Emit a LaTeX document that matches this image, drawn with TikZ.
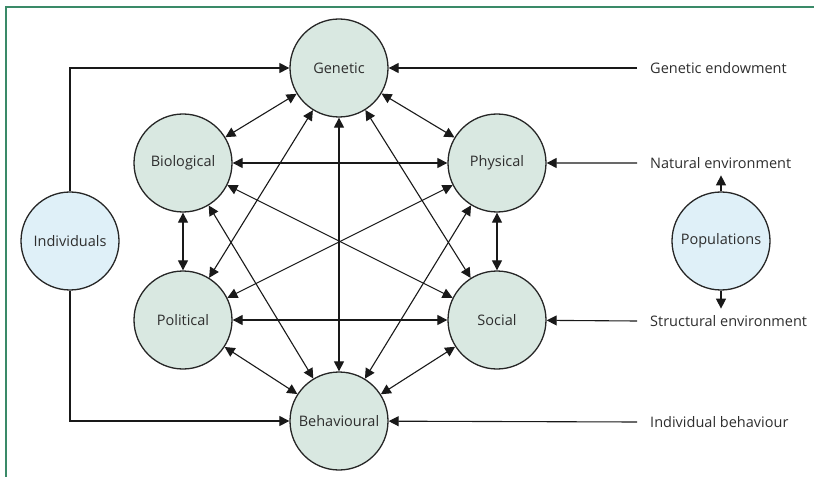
\documentclass[tikz,border=0pt]{standalone}
\usepackage{fontspec}
\setmainfont{Open Sans}
\usepackage{xcolor}
\usetikzlibrary{positioning, arrows.meta}

\definecolor{factorfill}{HTML}{D9E8E1}
\definecolor{levelfill}{HTML}{DFF0F8}
\definecolor{framegreen}{HTML}{3A8A68}
\definecolor{inkgrey}{HTML}{2E2E2E}

\begin{document}
\begin{tikzpicture}[x=1bp,y=1bp,on grid,
    font=\fontsize{14.5bp}{16bp}\selectfont,
    factor/.style={circle,draw=black!85,line width=1.3bp,fill=factorfill,
        minimum size=98bp,inner sep=0pt,text=inkgrey},
    level/.style={factor,fill=levelfill},
    source/.style={anchor=west,text=inkgrey,inner sep=0pt},
    link/.style={{Triangle[length=10bp,width=10bp]}-{Triangle[length=10bp,width=10bp]},
        line width=1.1bp,black!90},
    feed/.style={-{Triangle[length=10bp,width=10bp]},line width=1.1bp,black!90}]
    \useasboundingbox (0,0) rectangle (814,-477);
    \draw[framegreen,line width=1.5bp] (6,-477) -- (6,-7) -- (814,-7);

    % Ring of determinants
    \node[factor] (gen) at (339,-68) {Genetic};
    \node[factor] (bio) [below left=95bp and 156bp of gen] {Biological};
    \node[factor] (phy) [right=314bp of bio] {Physical};
    \node[factor] (pol) [below=157bp of bio] {Political};
    \node[factor] (soc) [right=314bp of pol] {Social};
    \node[factor] (beh) [below=353bp of gen] {Behavioural};

    % Levels
    \node[level] (ind) at (70,-241) {Individuals};
    \node[level] (pop) at (721,-241) {Populations};
    \coordinate (popUp) at ([yshift=16bp]pop.north);
    \coordinate (popDown) at ([yshift=-18bp]pop.south);

    % Outer sources
    \node[source] (endow) at (650,-68) {Genetic endowment};
    \node[source] (natenv) at (650,-163) {Natural environment};
    \node[source] (strenv) at (650,-321) {Structural environment};
    \node[source] (indbeh) at (650,-422) {Individual behaviour};

    \path[link]
    (gen) edge (bio) edge (phy) edge (pol) edge (soc) edge (beh)
    (bio) edge (phy) edge (pol) edge (soc) edge (beh)
    (phy) edge (pol) edge (soc) edge (beh)
    (pol) edge (soc) edge (beh)
    (soc) edge (beh);

    \draw[feed] ([xshift=-13bp]endow.west) -- (gen);
    \draw[feed] ([xshift=-13bp]natenv.west) -- (phy);
    \draw[feed] ([xshift=-13bp]strenv.west) -- (soc);
    \draw[feed] ([xshift=-13bp]indbeh.west) -- (beh);

    \draw[feed] (ind.north) |- (gen.west);
    \draw[feed] (ind.south) |- (beh.west);
    \draw[feed] (pop.north) -- (popUp);
    \draw[feed] (pop.south) -- (popDown);
\end{tikzpicture}
\end{document}
